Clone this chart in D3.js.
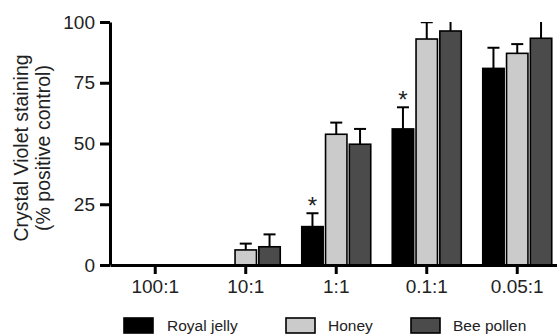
<!DOCTYPE html>
<html>
<head>
<meta charset="utf-8">
<script src="https://cdn.jsdelivr.net/npm/d3@7"></script>
<style>
  body { margin: 0; background: #fff; }
  svg { display: block; font-family: "Liberation Sans", Arial, sans-serif; }
</style>
</head>
<body>
<div id="chart"></div>
<script>
// data
var categories = ["100:1", "10:1", "1:1", "0.1:1", "0.05:1"];
var seriesNames = ["Royal jelly", "Honey", "Bee pollen"];
var royalJelly = [0, 0, 15.8, 56, 80.9];
var royalJellyErr = [0, 0, 5.5, 8.9, 8.5];
var honey = [0, 6.2, 53.8, 93, 87.1];
var honeyErr = [0, 2.6, 4.8, 6.9, 3.8];
var beePollen = [0, 7.5, 49.7, 96.3, 93.3];
var beePollenErr = [0, 5.1, 6.3, 5, 8];
var significant = [false, false, true, true, false]; // royal jelly asterisks
var yTicks = [0, 25, 50, 75, 100];

var colors = ["#000000", "#cbcbcb", "#4b4b4b"];
var values = [royalJelly, honey, beePollen];
var errors = [royalJellyErr, honeyErr, beePollenErr];

var W = 557, H = 335;
var margin = { top: 22, left: 110, bottom: 70 };
var plotBottom = H - margin.bottom;

var svg = d3.select("#chart").append("svg")
    .attr("width", W)
    .attr("height", H);

var x0 = d3.scaleBand()
    .domain(categories)
    .range([margin.left, margin.left + 5 * 90.5])
    .padding(0);

var x1 = d3.scaleBand()
    .domain(seriesNames)
    .range([0, 69])
    .paddingInner(0.1);

var y = d3.scaleLinear()
    .domain([0, 100])
    .range([plotBottom, margin.top]);

// flatten into rows for drawing
var rows = [];
categories.forEach(function (c, i) {
    seriesNames.forEach(function (s, j) {
        rows.push({ cat: c, series: s, idx: j, value: values[j][i], err: errors[j][i] });
    });
});

function barX(d) {
    return x0(d.cat) + x0.bandwidth() / 2 - 34.5 + x1(d.series);
}

svg.append("clipPath").attr("id", "clip")
    .append("rect")
    .attr("x", 0).attr("y", margin.top)
    .attr("width", W).attr("height", plotBottom - margin.top);

var plot = svg.append("g").attr("clip-path", "url(#clip)");

// error bars (only upper)
var eb = plot.selectAll(".err")
    .data(rows.filter(function (d) { return d.err > 0; }))
    .enter().append("g")
    .attr("stroke", "#000")
    .attr("stroke-width", 2);
eb.append("line")
    .attr("x1", function (d) { return barX(d) + x1.bandwidth() / 2; })
    .attr("x2", function (d) { return barX(d) + x1.bandwidth() / 2; })
    .attr("y1", function (d) { return y(d.value); })
    .attr("y2", function (d) { return y(d.value + d.err); });
eb.append("line")
    .attr("x1", function (d) { return barX(d) + x1.bandwidth() / 2 - 6; })
    .attr("x2", function (d) { return barX(d) + x1.bandwidth() / 2 + 6; })
    .attr("y1", function (d) { return y(d.value + d.err); })
    .attr("y2", function (d) { return y(d.value + d.err); });

// bars
plot.selectAll(".bar")
    .data(rows.filter(function (d) { return d.value > 0; }))
    .enter().append("rect")
    .attr("x", function (d) { return barX(d); })
    .attr("y", function (d) { return y(d.value); })
    .attr("width", x1.bandwidth())
    .attr("height", function (d) { return y(0) - y(d.value); })
    .attr("fill", function (d) { return colors[d.idx]; })
    .attr("stroke", "#000")
    .attr("stroke-width", 1.6);

// asterisks
svg.selectAll(".star")
    .data(rows.filter(function (d, i) { return d.idx === 0 && significant[categories.indexOf(d.cat)]; }))
    .enter().append("text")
    .attr("x", function (d) { return barX(d) + x1.bandwidth() / 2; })
    .attr("y", function (d) { return y(d.value + d.err) + 1; })
    .attr("text-anchor", "middle")
    .style("font-size", "24px")
    .attr("fill", "#222")
    .text("*");

// y axis
var yAxis = svg.append("g")
    .attr("transform", "translate(" + margin.left + ",0)")
    .call(d3.axisLeft(y).tickValues(yTicks).tickSize(10).tickSizeOuter(0).tickPadding(5));

// x axis
var xAxis = svg.append("g")
    .attr("transform", "translate(0," + plotBottom + ")")
    .call(d3.axisBottom(x0).tickSize(9).tickSizeOuter(0).tickPadding(6));

[yAxis, xAxis].forEach(function (a) {
    a.select(".domain").attr("stroke", "#000").attr("stroke-width", 3);
    a.selectAll(".tick line").attr("stroke", "#000").attr("stroke-width", 3);
    a.selectAll(".tick text")
        .attr("fill", "#222")
        .style("font-size", "19px")
        .style("font-family", "'Liberation Sans', Arial, sans-serif");
});

// y axis title
var yTitle = svg.append("text")
    .attr("transform", "translate(28,148) rotate(-90)")
    .attr("text-anchor", "middle")
    .attr("fill", "#222")
    .style("font-size", "19.5px");
yTitle.append("tspan").attr("x", 0).attr("dy", 0).text("Crystal Violet staining");
yTitle.append("tspan").attr("x", 0).attr("dy", 22).text("(% positive control)");

// legend
var legendX = [124, 286, 411];
var legend = svg.selectAll(".legend")
    .data(seriesNames)
    .enter().append("g")
    .attr("transform", function (d, i) { return "translate(" + legendX[i] + ",318)"; });
legend.append("rect")
    .attr("width", 29)
    .attr("height", 15)
    .attr("fill", function (d, i) { return colors[i]; })
    .attr("stroke", "#000")
    .attr("stroke-width", 1.6);
legend.append("text")
    .attr("x", function (d, i) { return [43, 42, 42][i]; })
    .attr("y", 13)
    .attr("fill", "#222")
    .style("font-size", "15.5px")
    .text(function (d) { return d; });
</script>
</body>
</html>
